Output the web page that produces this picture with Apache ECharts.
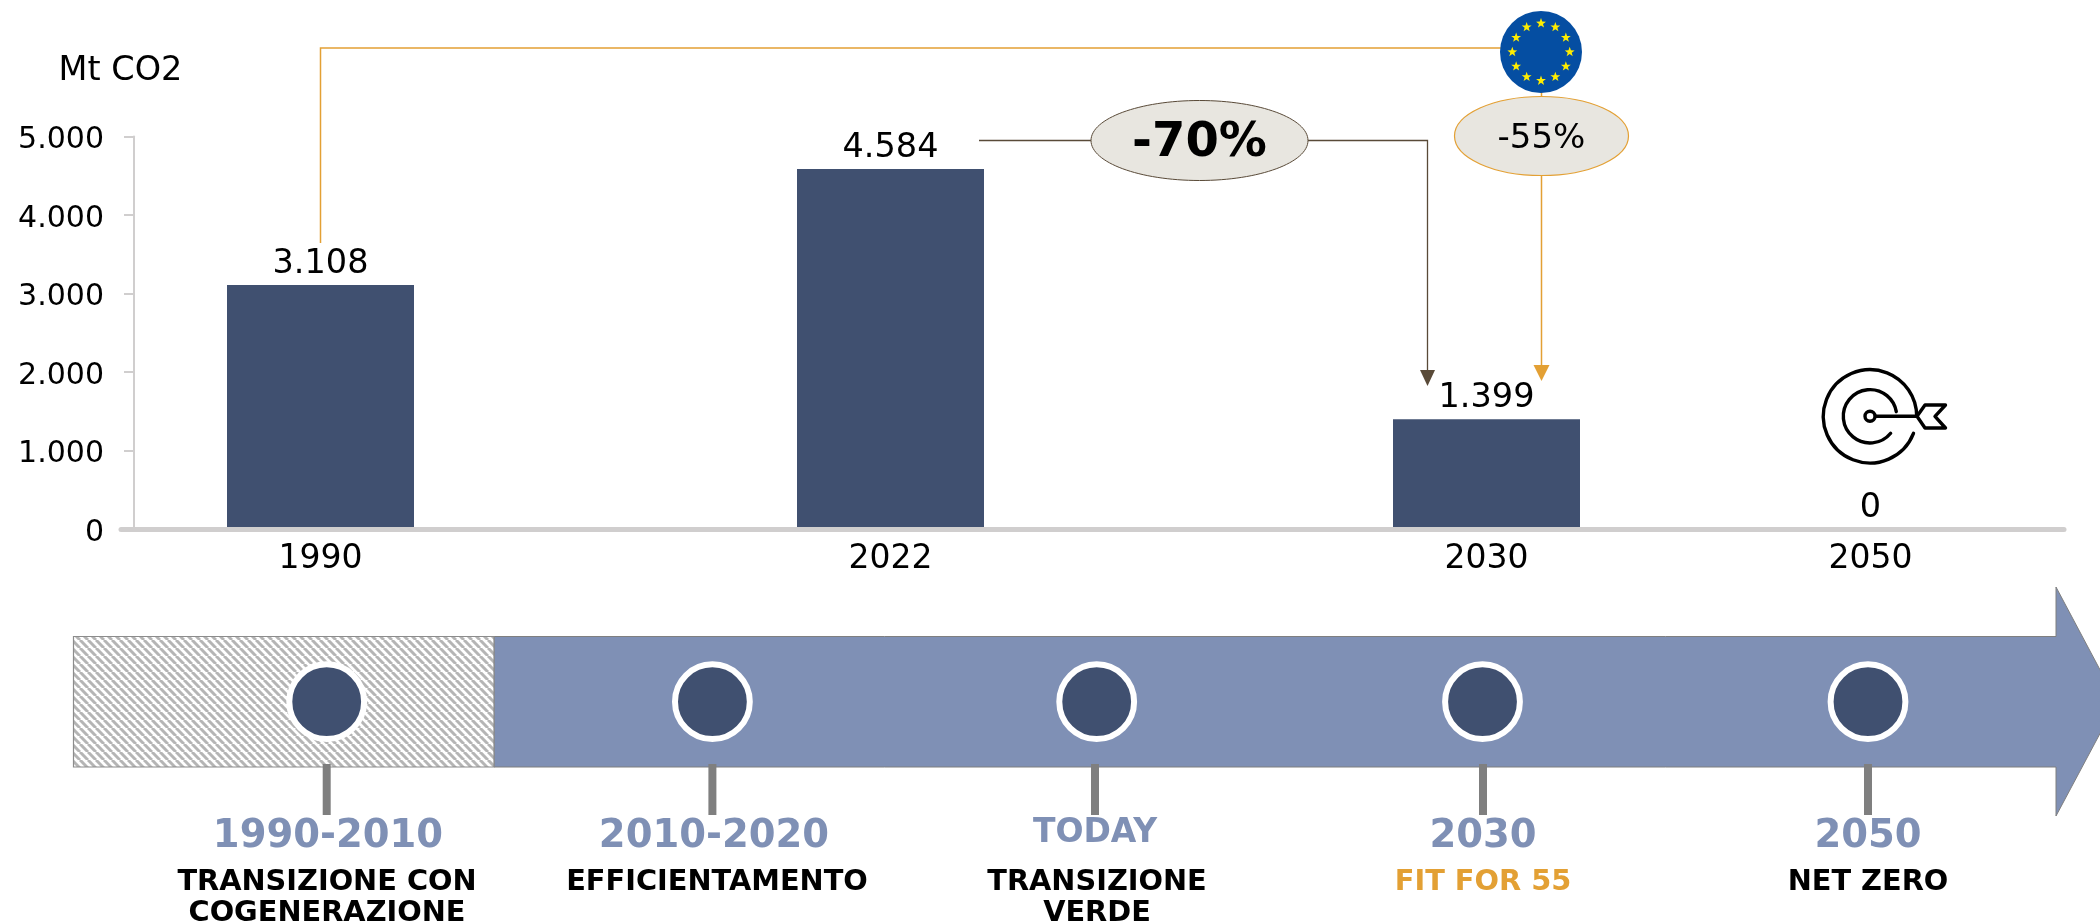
<!DOCTYPE html>
<html><head><meta charset="utf-8">
<style>html,body{margin:0;padding:0;background:#fff}#c{width:2100px;height:923px}</style>
<script src="https://cdn.jsdelivr.net/npm/echarts@6/dist/echarts.min.js"></script>
</head><body><div id="c"></div>
<script>
const categories = ['1990','2022','2030','2050'];
const emissions = [3108,4584,1399,0];
const yTicks = [0,1000,2000,3000,4000,5000];
const unitLabel = 'Mt CO2';
const reduction2022 = '-70%';
const reductionEU = '-55%';
const periods = ['1990-2010','2010-2020','TODAY','2030','2050'];
const periodTitles = [['TRANSIZIONE CON','COGENERAZIONE'],['EFFICIENTAMENTO'],['TRANSIZIONE','VERDE'],['FIT FOR 55'],['NET ZERO']];

const FONT='"DejaVu Sans"';
const NAVY='#405070', STEEL='#7F90B5', ORANGE='#E3A034', BROWN='#594A38', PILL='#E8E6E0';
const slots=[0,570,1166,1550]; // uneven spacing of the categories along the axis
const fmt=v=>String(v).replace(/\B(?=(\d{3})+$)/g,'.');

const H=8;
const hatch=document.createElement('canvas');hatch.width=hatch.height=H;
(function(){const g=hatch.getContext('2d');g.fillStyle='#fff';g.fillRect(0,0,H,H);g.strokeStyle='#b5b5b5';g.lineWidth=3;
for(let i=-H;i<=2*H;i+=H){g.beginPath();g.moveTo(i,0);g.lineTo(i+H,H);g.stroke();}})();

const els=[];
const T=(text,x,y,font,fill)=>els.push({type:'text',silent:true,z:20,style:{text,x,y:y+3,font,fill:fill||'#000',textAlign:'center',textVerticalAlign:'middle'}});
const L=(pts,color,w)=>els.push({type:'polyline',silent:true,z:10,shape:{points:pts},style:{stroke:color,lineWidth:w,fill:null}});
const P=(pts,fill,stroke,lw)=>els.push({type:'polygon',silent:true,z:11,shape:{points:pts},style:{fill,stroke:stroke||null,lineWidth:lw||0}});
T(unitLabel,120.5,68,'33.5px '+FONT);
L([[320.5,243],[320.5,48],[1505,48]],ORANGE,1.5);
L([[1541.5,90],[1541.5,366]],ORANGE,1.5);
P([[1533.5,365],[1549.5,365],[1541.5,381]],ORANGE);
L([[979,140.5],[1427.5,140.5],[1427.5,371]],BROWN,1.3);
P([[1420,370],[1435,370],[1427.5,386]],BROWN);
els.push({type:'ellipse',silent:true,z:12,shape:{cx:1199.5,cy:140.5,rx:108.5,ry:40},style:{fill:PILL,stroke:BROWN,lineWidth:1}});
T(reduction2022,1199.5,140.5,'bold 48px '+FONT);
els.push({type:'ellipse',silent:true,z:12,shape:{cx:1541.5,cy:136,rx:87,ry:39.5},style:{fill:PILL,stroke:ORANGE,lineWidth:1.2}});
T(reductionEU,1541.5,136,'34px '+FONT);
els.push({type:'circle',silent:true,z:12,shape:{cx:1541,cy:52,r:41},style:{fill:'#054EA2'}});
for(let i=0;i<12;i++){const a=i*Math.PI/6,cx=1541+28.7*Math.sin(a),cy=52-28.7*Math.cos(a),pts=[];
 for(let k=0;k<10;k++){const r=k%2?2.1:5.2,b=k*Math.PI/5;pts.push([cx+r*Math.sin(b),cy-r*Math.cos(b)]);}
 els.push({type:'polygon',silent:true,z:13,shape:{points:pts},style:{fill:'#FFED00'}});}
const ICX=1870,ICY=416.3,rad=d=>d*Math.PI/180;
const arc=(r,s,e)=>els.push({type:'arc',silent:true,z:12,shape:{cx:ICX,cy:ICY,r,startAngle:rad(s),endAngle:rad(e),clockwise:true},style:{stroke:'#000',lineWidth:3.4,fill:null,lineCap:'round'}});
arc(46.7,21.4,360);arc(26.7,39.4,350);
els.push({type:'circle',silent:true,z:12,shape:{cx:ICX,cy:ICY,r:5},style:{stroke:'#000',lineWidth:3.4,fill:'#fff'}});
L([[ICX+5,ICY],[1917,ICY]],'#000',3.4);
els.push({type:'polygon',silent:true,z:12,shape:{points:[[1917,ICY],[1925,405],[1945.5,405],[1935,ICY],[1945.5,428],[1925,428]]},style:{fill:'#fff',stroke:'#000',lineWidth:3.4,lineJoin:'round'}});
els.push({type:'polygon',silent:true,z:1,shape:{points:[[494,636.5],[2056,636.5],[2056,587],[2117,701.7],[2056,816],[2056,767],[494,767]]},style:{fill:STEEL,stroke:'#7f7f7f',lineWidth:1}});
els.push({type:'rect',silent:true,z:2,shape:{x:73.5,y:636.5,width:420.5,height:130.5},style:{fill:{image:hatch,repeat:'repeat'},stroke:'#8c8c8c',lineWidth:1.2}});
const nodeX=[326.7,712.4,1096.7,1482.5,1868];
const stickX=[326.7,712.4,1095,1483,1868];
const yearX=[328,714,1095,1483,1868];
const subX=[327,717,1097,1483,1868];
periods.forEach((p,i)=>{
 els.push({type:'rect',silent:true,z:3,shape:{x:stickX[i]-4,y:764,width:8,height:51},style:{fill:'#7f7f7f'}});
 els.push({type:'circle',silent:true,z:3,shape:{cx:nodeX[i],cy:701.7,r:37.4},style:{fill:NAVY,stroke:'#fff',lineWidth:6}});
 if(p==='TODAY')T(p,yearX[i],830,'bold 33px '+FONT,STEEL);else T(p,yearX[i],834,'bold 38.5px '+FONT,STEEL);
 periodTitles[i].forEach((s,k)=>T(s,subX[i],880+k*31,'bold 28.8px '+FONT,p==='2030'?ORANGE:'#000'));
});

const chart=echarts.init(document.getElementById('c'),null,{renderer:'canvas'});
chart.setOption({
 animation:false,backgroundColor:'#fff',
 grid:{left:121,right:36,top:136.4,bottom:923-529,containLabel:false},
 xAxis:{type:'value',min:-199.5,max:1743.5,z:3,splitLine:{show:false},
  axisLine:{show:true,onZero:false,lineStyle:{color:'#D0CECE',width:5}},
  axisTick:{show:false},
  axisLabel:{show:true,customValues:slots,margin:14,color:'#000',fontFamily:FONT,fontSize:33,
   formatter:v=>categories[slots.indexOf(v)]}},
 yAxis:{type:'value',min:0,max:5000,interval:1000,offset:-13,splitLine:{show:false},
  axisLine:{show:true,onZero:false,lineStyle:{color:'#D0CECE',width:2}},
  axisTick:{show:true,length:10,lineStyle:{color:'#D0CECE',width:2}},
  axisLabel:{margin:30,formatter:v=>yTicks.includes(v)?'{a|'+fmt(v)+'}':'',
   rich:{a:{color:'#000',fontFamily:FONT,fontSize:30,lineHeight:38,verticalAlign:'bottom'}}}},
 series:[{type:'bar',barWidth:187,itemStyle:{color:NAVY},
  data:emissions.map((v,i)=>[slots[i],v]),
  label:{show:true,position:'top',distance:4,color:'#000',fontFamily:FONT,fontSize:33.5,formatter:p=>fmt(p.value[1])}}],
 graphic:{elements:els}
});
</script></body></html>
